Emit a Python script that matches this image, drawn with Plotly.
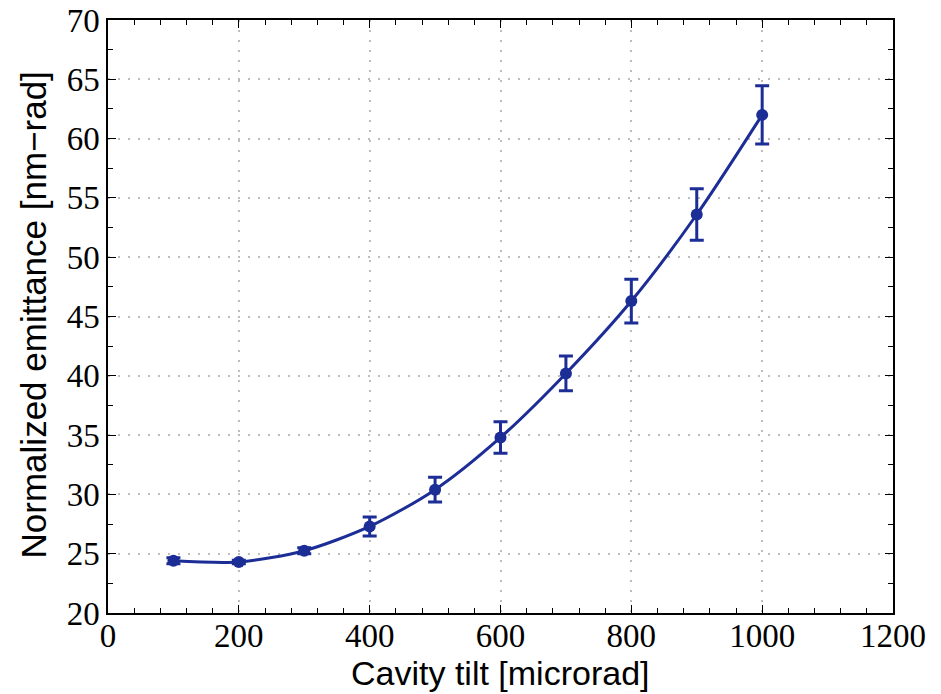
import plotly.graph_objects as go

tilt = [100, 200, 300, 400, 500, 600, 700, 800, 900, 1000]
emittance = [24.4, 24.3, 25.25, 27.3, 30.4, 34.8, 40.2, 46.3, 53.6, 62.0]
err = [0.25, 0.15, 0.25, 0.8, 1.05, 1.33, 1.47, 1.85, 2.18, 2.45]

x_ticks = [0, 200, 400, 600, 800, 1000, 1200]
y_ticks = [20, 25, 30, 35, 40, 45, 50, 55, 60, 65, 70]

x_title = "Cavity tilt [microrad]"
y_title = "Normalized emittance [nm\u2212rad]"

color = "#1c2d96"
serif = "Liberation Serif"
sans = "Liberation Sans"

fig = go.Figure()
fig.add_trace(go.Scatter(
    x=tilt, y=emittance, mode="lines+markers",
    line=dict(color=color, width=3, shape="spline", smoothing=0.8),
    marker=dict(color=color, size=12, symbol="circle"),
    error_y=dict(type="data", array=err, visible=True, color=color, thickness=3, width=7),
    showlegend=False,
))

axis_common = dict(
    showline=True, linecolor="black", linewidth=1.5, mirror="allticks",
    ticks="inside", ticklen=8, tickcolor="black", tickwidth=1,
    showgrid=True, gridcolor="#bdbdbd", griddash="2px,8px", gridwidth=2,
    zeroline=False, automargin=False,
    tickfont=dict(family=serif, size=33, color="black"),
)

fig.update_xaxes(
    range=[0, 1200], tickvals=x_ticks, ticktext=[str(v) for v in x_ticks],
    minor=dict(dtick=40, ticks="inside", ticklen=5, tickcolor="black", showgrid=False),
    ticklabelstandoff=-7,
    **axis_common,
)
fig.update_yaxes(
    range=[20, 70], tickvals=y_ticks, ticktext=[str(v) for v in y_ticks],
    minor=dict(dtick=2.5, ticks="inside", ticklen=5, tickcolor="black", showgrid=False),
    **axis_common,
)

fig.add_annotation(
    text=x_title, xref="paper", yref="paper", x=0.5, y=-0.1349,
    xanchor="center", yanchor="bottom", showarrow=False,
    font=dict(family=sans, size=34, color="black"), borderpad=0,
)
fig.add_annotation(
    text=y_title, xref="paper", yref="paper", x=-0.095, y=0.5025,
    xanchor="center", yanchor="middle", showarrow=False, textangle=-90,
    font=dict(family=sans, size=35, color="black"),
)

fig.update_layout(
    width=941, height=694,
    margin=dict(l=108, r=48, t=20, b=81),
    paper_bgcolor="white", plot_bgcolor="white",
)

fig.write_html("out.html")
